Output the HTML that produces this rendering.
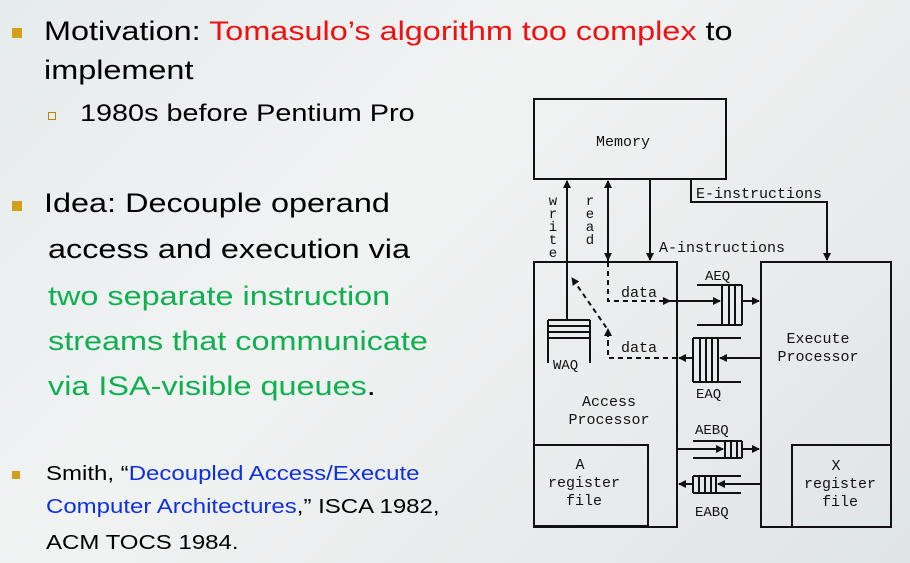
<!DOCTYPE html>
<html><head><meta charset="utf-8"><style>
html,body{margin:0;padding:0}
body{width:910px;height:563px;overflow:hidden;position:relative;background:linear-gradient(135deg,#e6ebec 0%,#f1f3f3 40%,#e9ecec 70%,#dfe4e4 100%);font-family:"Liberation Sans",sans-serif;color:#000}
.t{position:absolute;white-space:nowrap;transform:scaleX(1.2);transform-origin:0 0}
.b{position:absolute;width:10px;height:10px;background:#d4a017}
.sb{position:absolute;width:6px;height:6px;border:1.5px solid #b8860b}
svg{position:absolute;left:0;top:0}
</style></head><body>
<div class="b" style="left:12px;top:28px"></div>
<div class="t" style="left:44px;top:16px;font-size:27px">Motivation: <span style="color:#f01010">Tomasulo’s algorithm too complex</span> to</div>
<div class="t" style="left:44px;top:55px;font-size:27px">implement</div>
<div class="sb" style="left:48px;top:112px"></div>
<div class="t" style="left:80px;top:100px;font-size:24px">1980s before Pentium Pro</div>
<div class="b" style="left:12px;top:201px"></div>
<div class="t" style="left:44px;top:188px;font-size:27px">Idea: Decouple operand</div>
<div class="t" style="left:48px;top:234px;font-size:27px">access and execution via</div>
<div class="t" style="left:48px;top:281px;font-size:27px;color:#10b050">two separate instruction</div>
<div class="t" style="left:48px;top:326px;font-size:27px;color:#10b050">streams that communicate</div>
<div class="t" style="left:48px;top:371px;font-size:27px"><span style="color:#10b050">via ISA-visible queues</span>.</div>
<div class="b" style="left:12px;top:471px;width:8px;height:8px"></div>
<div class="t" style="left:46px;top:463px;font-size:20px">Smith, “<span style="color:#1030e0">Decoupled Access/Execute</span></div>
<div class="t" style="left:46px;top:496px;font-size:20px"><span style="color:#1030e0">Computer Architectures</span>,” ISCA 1982,</div>
<div class="t" style="left:46px;top:532px;font-size:20px">ACM TOCS 1984.</div>
<svg width="910" height="563" viewBox="0 0 910 563">
<defs><marker id="a" markerWidth="8" markerHeight="8" refX="7" refY="4" orient="auto" markerUnits="userSpaceOnUse"><path d="M0,0 L8,4 L0,8 z" fill="#111"/></marker></defs>
<g stroke="#111" stroke-width="2" fill="none">
<rect x="534" y="99" width="192" height="80"/>
<rect x="534" y="262" width="143" height="265"/>
<rect x="761" y="262" width="130" height="265"/>
<rect x="534" y="445" width="114" height="81"/>
<rect x="792" y="445" width="99" height="82"/>
<line x1="567" y1="320" x2="567" y2="181" marker-end="url(#a)"/>
<line x1="608" y1="262" x2="608" y2="181" marker-end="url(#a)"/>
<line x1="608" y1="181" x2="608" y2="260" marker-end="url(#a)"/>
<line x1="650" y1="179" x2="650" y2="260" marker-end="url(#a)"/>
<polyline points="691,179 691,202 827,202 827,260" marker-end="url(#a)"/>
<g stroke-dasharray="5,4"><polyline points="608,262 608,301 670,301" marker-end="url(#a)"/>
<polyline points="608,345 608,330 572,278" marker-end="url(#a)"/>
<polyline points="677,358 608,358 608,329" marker-end="url(#a)"/></g>
<line x1="670" y1="301" x2="720" y2="301" marker-end="url(#a)"/>
<line x1="697" y1="285" x2="742" y2="285"/><line x1="697" y1="325" x2="742" y2="325"/>
<line x1="722" y1="285" x2="722" y2="325"/><line x1="729" y1="285" x2="729" y2="325"/><line x1="735" y1="285" x2="735" y2="325"/><line x1="742" y1="285" x2="742" y2="325"/>
<line x1="742" y1="301" x2="759" y2="301" marker-end="url(#a)"/>
<line x1="693" y1="338" x2="741" y2="338"/><line x1="693" y1="382" x2="741" y2="382"/>
<line x1="693" y1="338" x2="693" y2="382"/><line x1="700" y1="338" x2="700" y2="382"/><line x1="706" y1="338" x2="706" y2="382"/><line x1="712" y1="338" x2="712" y2="382"/><line x1="718" y1="338" x2="718" y2="382"/>
<line x1="761" y1="358" x2="720" y2="358" marker-end="url(#a)"/>
<line x1="693" y1="358" x2="679" y2="358" marker-end="url(#a)"/>
<line x1="548" y1="320" x2="590" y2="320"/><line x1="548" y1="326" x2="590" y2="326"/><line x1="548" y1="332" x2="590" y2="332"/><line x1="548" y1="338" x2="590" y2="338"/>
<line x1="548" y1="320" x2="548" y2="363"/><line x1="590" y1="320" x2="590" y2="363"/>
<line x1="693" y1="441" x2="742" y2="441"/><line x1="693" y1="458" x2="742" y2="458"/>
<line x1="725" y1="441" x2="725" y2="458"/><line x1="731" y1="441" x2="731" y2="458"/><line x1="737" y1="441" x2="737" y2="458"/><line x1="742" y1="441" x2="742" y2="458"/>
<line x1="677" y1="449" x2="723" y2="449" marker-end="url(#a)"/>
<line x1="742" y1="449" x2="759" y2="449" marker-end="url(#a)"/>
<line x1="693" y1="476" x2="741" y2="476"/><line x1="693" y1="493" x2="741" y2="493"/>
<line x1="693" y1="476" x2="693" y2="493"/><line x1="699" y1="476" x2="699" y2="493"/><line x1="705" y1="476" x2="705" y2="493"/><line x1="711" y1="476" x2="711" y2="493"/><line x1="716" y1="476" x2="716" y2="493"/>
<line x1="761" y1="484" x2="718" y2="484" marker-end="url(#a)"/>
<line x1="693" y1="484" x2="679" y2="484" marker-end="url(#a)"/>
</g>
<g font-family="Liberation Mono,monospace" font-size="15" fill="#111">
<text x="623" y="146" text-anchor="middle">Memory</text>
<text x="696" y="198">E-instructions</text>
<text x="659" y="252">A-instructions</text>
<g text-anchor="middle" font-size="14"><text x="553" y="205">w</text><text x="553" y="218">r</text><text x="553" y="231">i</text><text x="553" y="244">t</text><text x="553" y="257">e</text>
<text x="590" y="205">r</text><text x="590" y="218">e</text><text x="590" y="231">a</text><text x="590" y="244">d</text></g>
<text x="621" y="297">data</text>
<text x="621" y="352">data</text>
<text x="705" y="280" font-size="14">AEQ</text>
<text x="696" y="398" font-size="14">EAQ</text>
<text x="553" y="369" font-size="14">WAQ</text>
<text x="695" y="434" font-size="14">AEBQ</text>
<text x="695" y="516" font-size="14">EABQ</text>
<text x="609" y="406" text-anchor="middle">Access</text>
<text x="609" y="424" text-anchor="middle">Processor</text>
<text x="818" y="343" text-anchor="middle">Execute</text>
<text x="818" y="361" text-anchor="middle">Processor</text>
<text x="580" y="469" text-anchor="middle">A</text>
<text x="584" y="487" text-anchor="middle">register</text>
<text x="584" y="505" text-anchor="middle">file</text>
<text x="836" y="470" text-anchor="middle">X</text>
<text x="840" y="488" text-anchor="middle">register</text>
<text x="840" y="506" text-anchor="middle">file</text>
</g>
</svg>
</body></html>
